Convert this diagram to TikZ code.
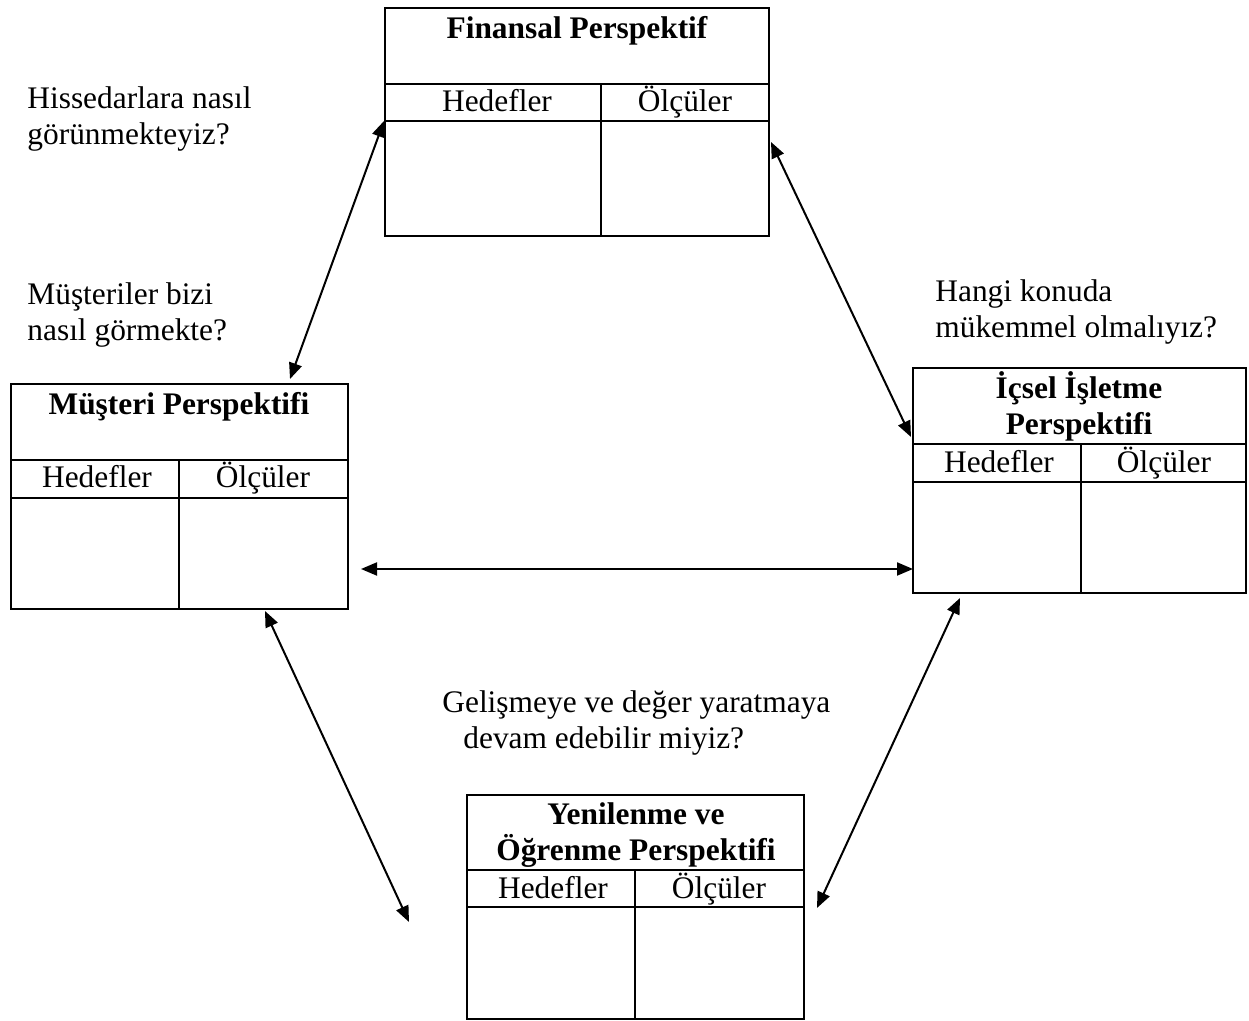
\documentclass[tikz,border=0pt]{standalone}
\usepackage{fontspec}
\setmainfont{Liberation Serif}
\usetikzlibrary{arrows.meta}

\begin{document}
\fontsize{15.7}{18}\selectfont
\begin{tikzpicture}[x=0.5pt, y=-0.5pt,
  cell/.style={line width=1pt},
  title/.style={font=\bfseries, align=center, anchor=base, inner sep=0pt},
  head/.style={anchor=base, inner sep=0pt},
  ask/.style={align=left, anchor=base west, inner sep=0pt},
  arr/.style={{Triangle[length=8pt,width=6.5pt]}-{Triangle[length=8pt,width=6.5pt]}, line width=1pt}]
\useasboundingbox (0,0) rectangle (1249,1021);

% Finansal
\draw[cell] (385,8) rectangle (769,236);
\draw[cell] (385,84) -- (769,84) (385,121) -- (769,121) (601,84) -- (601,236);
\node[title] (Fin) at (577,39) {Finansal Perspektif};
\node[head] (FinH) at (497,112) {Hedefler};
\node[head] (FinO) at (685,112) {Ölçüler};

% Musteri
\draw[cell] (11,384) rectangle (348,609);
\draw[cell] (11,460) -- (348,460) (11,498) -- (348,498) (179,460) -- (179,609);
\node[title] (Mus) at (179,415) {Müşteri Perspektifi};
\node[head] (MusH) at (97,488) {Hedefler};
\node[head] (MusO) at (263,488) {Ölçüler};

% Icsel
\draw[cell] (913,368) rectangle (1246,593);
\draw[cell] (913,444) -- (1246,444) (913,482) -- (1246,482) (1081,444) -- (1081,593);
\node[title] (Ics) at (1079,435) {İçsel İşletme\\Perspektifi};
\node[head] (IcsH) at (999,473) {Hedefler};
\node[head] (IcsO) at (1164,473) {Ölçüler};

% Yenilenme
\draw[cell] (467,795) rectangle (804,1019);
\draw[cell] (467,870) -- (804,870) (467,907) -- (804,907) (635,870) -- (635,1019);
\node[title] (Yen) at (636,860) {Yenilenme ve\\Öğrenme Perspektifi};
\node[head] (YenH) at (553,898) {Hedefler};
\node[head] (YenO) at (719,898) {Ölçüler};

% sorular
\node[ask] (q1) at (27,145) {Hissedarlara nasıl\\görünmekteyiz?};
\node[ask] (q2) at (27,341) {Müşteriler bizi\\nasıl görmekte?};
\node[ask] (q3) at (935,338) {Hangi konuda\\mükemmel olmalıyız?};
\node[ask] (q4) at (442,748) {Gelişmeye ve değer yaratmaya\\\hspace*{10.5pt}devam edebilir miyiz?};

% ok uclari
\coordinate (a1) at (384,121);
\coordinate (a2) at (290,379);
\coordinate (b1) at (771,142);
\coordinate (b2) at (911,437);
\coordinate (c1) at (361,569);
\coordinate (c2) at (913,569);
\coordinate (d1) at (265,611);
\coordinate (d2) at (409,922);
\coordinate (e1) at (960,598);
\coordinate (e2) at (817,908);

\draw[arr] (a1) -- (a2);
\draw[arr] (b1) -- (b2);
\draw[arr] (c1) -- (c2);
\draw[arr] (d1) -- (d2);
\draw[arr] (e1) -- (e2);
\end{tikzpicture}
\end{document}
